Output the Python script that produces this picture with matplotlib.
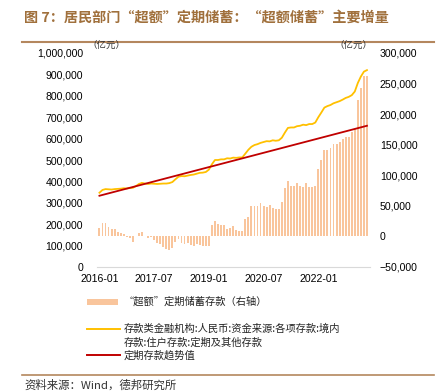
import matplotlib
matplotlib.use("Agg")
import matplotlib.pyplot as plt
from matplotlib.lines import Line2D
from matplotlib.patches import Rectangle
import numpy as np

plt.rcParams['font.family'] = ['Liberation Sans', 'Noto Sans CJK SC', 'DejaVu Sans']

# ---------------- data ----------------
months = [f"{2016 + i // 12}-{i % 12 + 1:02d}" for i in range(89)]  # 2016-01 .. 2023-05
tick_labels = ["2016-01", "2017-07", "2019-01", "2020-07", "2022-01"]

# 存款类金融机构:人民币:资金来源:各项存款:境内存款:住户存款:定期及其他存款 (亿元)
time_deposits = [
    347000, 360000, 364000, 363000, 362000, 364000, 365000, 366000, 368000, 367000,
    369000, 370000, 378000, 388000, 393000, 390000, 388000, 390000, 389000, 388000,
    389000, 390000, 390000, 392000, 397000, 410000, 422000, 425000, 424000, 427000,
    430000, 432000, 436000, 440000, 441000, 444000, 455000, 480000, 500000, 500000,
    503000, 503000, 508000, 507000, 511000, 510000, 512000, 512000, 530000, 548000,
    562000, 570000, 574000, 580000, 584000, 588000, 587000, 592000, 590000, 592000,
    604000, 628000, 650000, 652000, 652000, 658000, 660000, 665000, 663000, 668000,
    668000, 675000, 700000, 722000, 745000, 752000, 757000, 765000, 770000, 775000,
    782000, 790000, 795000, 803000, 820000, 860000, 890000, 913000, 920000,
]

# 定期存款趋势值: straight trend line, start and end values (亿元)
trend_months = [months[0], months[-1]]
trend_values = [333000, 660000]

# “超额”定期储蓄存款 (右轴, 亿元)
excess = [
    13000, 22000, 22000, 16000, 12500, 12500, 7000, 5500, 4000, -1000,
    -3000, -9000, 1000, 6000, 8000, 500, -3000, -1000, -6500, -10000,
    -12000, -17000, -20000, -23000, -19000, -9000, -4000, -10000, -12000, -11000,
    -14000, -15000, -12000, -14000, -15000, -15000, -15000, 18500, 25600, 20000,
    18500, 19000, 12000, 13000, 17000, 11000, 9000, 8700, 29000, 32000,
    50000, 50000, 50000, 54000, 50000, 48000, 51000, 46000, 45000, 45000,
    57000, 79000, 90000, 83000, 82000, 88000, 82000, 81000, 88000, 81000,
    81000, 83000, 111000, 125000, 142000, 142000, 144000, 151000, 151000, 154000,
    159000, 163000, 162000, 170000, 176000, 223000, 243000, 262000, 262000,
]

left_ticks = list(range(0, 1000001, 100000))
right_ticks = list(range(-50000, 300001, 50000))

# ---------------- figure ----------------
W, H = 442, 392
fig = plt.figure(figsize=(W / 100, H / 100), dpi=100)

def fx(px):
    return px / W

def fy(py):
    return 1 - py / H

ax = fig.add_axes([fx(97), fy(267), fx(370) - fx(97), fy(53) - fy(267)])
ax2 = ax.twinx()

x = np.arange(len(months))
idx = {m: i for i, m in enumerate(months)}

bar_color = "#F9C59C"
yellow = "#FFC000"
red = "#C00000"

ax2.bar(x, excess, width=0.62, color=bar_color, linewidth=0)
ax.plot(x, time_deposits, color=yellow, lw=1.3, solid_joinstyle="round")
ax.plot([idx[m] for m in trend_months], trend_values, color=red, lw=1.3)

ax.set_zorder(ax2.get_zorder() + 1)
ax.patch.set_visible(False)

ax.set_xlim(-0.8, 89.0)
ax.set_ylim(0, 1000000)
ax2.set_ylim(-50000, 300000)

ax.set_yticks(left_ticks)
ax.set_yticklabels([f"{v:,}" for v in left_ticks])
ax2.set_yticks(right_ticks)
ax2.set_yticklabels([f"{v:,}".replace("-", "−") for v in right_ticks])

ax.set_xticks([idx[m] for m in tick_labels])
ax.set_xticklabels(tick_labels)

for a in (ax, ax2):
    for s in a.spines.values():
        s.set_visible(False)
    a.tick_params(length=0, labelsize=7.6, colors="#000000")
ax.spines['bottom'].set_visible(True)
ax.spines['bottom'].set_color("#D9D9D9")
ax.spines['bottom'].set_linewidth(0.8)
ax.tick_params(axis='y', pad=10)
ax2.tick_params(axis='y', pad=7)
ax.tick_params(axis='x', pad=5)

cjk = ['Noto Sans CJK SC', 'DejaVu Sans']
brown = "#A0703C"

# units
fig.text(fx(87), fy(45), "（亿元）", fontsize=6.8, family=cjk, va='center', ha='left', color="#333333")
fig.text(fx(372), fy(45), "（亿元）", fontsize=6.8, family=cjk, va='center', ha='right', color="#333333")

# title
fig.text(fx(24), fy(18), "图 7：居民部门“超额”定期储蓄：“超额储蓄”主要增量",
         fontsize=10.2, family=cjk, weight='bold', color=brown, va='center', ha='left')
fig.add_artist(Line2D([fx(22), fx(434)], [fy(42), fy(42)], color="#B4875E", lw=1.5))

# legend
fig.add_artist(Rectangle((fx(87), fy(305)), fx(118) - fx(87), fy(299) - fy(305),
                         facecolor=bar_color, edgecolor='none'))
fig.text(fx(124), fy(302), "“超额”定期储蓄存款（右轴）", fontsize=7.4, family=cjk,
         va='center', ha='left', color="#222222")
fig.add_artist(Line2D([fx(87), fx(120)], [fy(329), fy(329)], color=yellow, lw=1.4))
fig.text(fx(124), fy(329), "存款类金融机构:人民币:资金来源:各项存款:境内", fontsize=7.4,
         family=cjk, va='center', ha='left', color="#222222")
fig.text(fx(124), fy(343), "存款:住户存款:定期及其他存款", fontsize=7.4,
         family=cjk, va='center', ha='left', color="#222222")
fig.add_artist(Line2D([fx(87), fx(120)], [fy(355), fy(355)], color=red, lw=1.4))
fig.text(fx(124), fy(356), "定期存款趋势值", fontsize=7.4, family=cjk,
         va='center', ha='left', color="#222222")

# bottom rule and source
fig.add_artist(Line2D([fx(22), fx(434)], [fy(375), fy(375)], color="#B4875E", lw=1.2))
fig.text(fx(24), fy(385), "资料来源：Wind，德邦研究所", fontsize=8.2, family=cjk,
         va='center', ha='left', color="#333333")

fig.savefig("out.png", dpi=100)
